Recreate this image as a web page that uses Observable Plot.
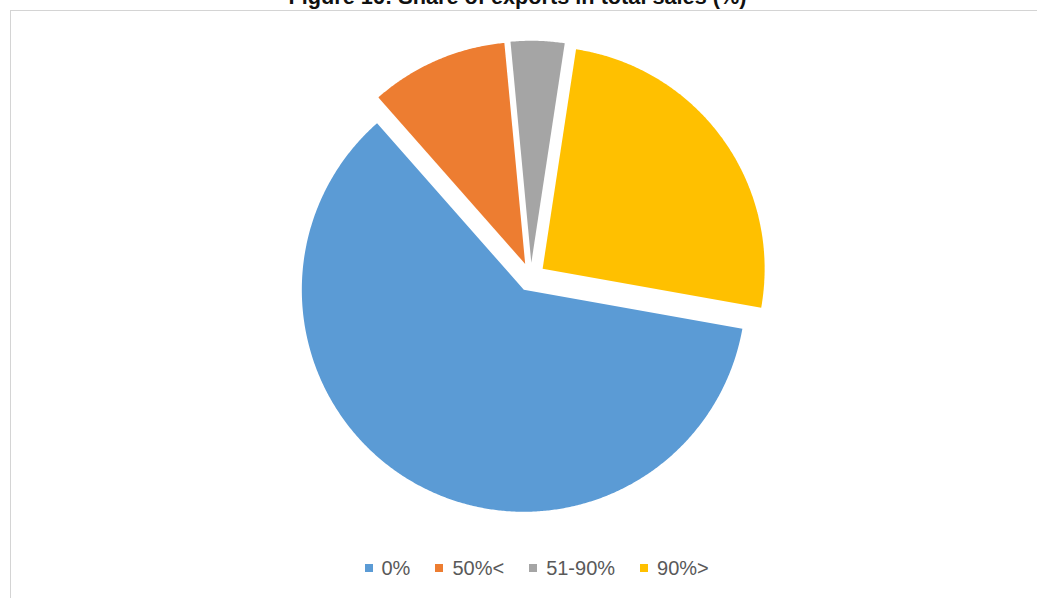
<!DOCTYPE html>
<html>
<head>
<meta charset="utf-8">
<script src="https://cdn.jsdelivr.net/npm/d3@7"></script>
<script src="https://cdn.jsdelivr.net/npm/@observablehq/plot@0.6"></script>
<style>
  html, body { margin: 0; padding: 0; background: #fff; overflow: hidden; width: 1037px; height: 598px; }
  #wrap { position: relative; width: 1037px; height: 598px; overflow: hidden; }
  #frame { position: absolute; left: 10px; top: 10px; width: 2000px; height: 2000px; border: 1px solid #d4d4d4; box-sizing: border-box; }
  #title { position: absolute; left: 0; width: 1035px; top: -14.4px; text-align: center; font: bold 21.7px/21.7px "Liberation Sans", Arial, sans-serif; color: #111; white-space: nowrap; }
  #chart { position: absolute; left: 0; top: 0; }
  #legend { position: absolute; left: 364.5px; top: 558.4px; display: flex; align-items: center; font: 20px/20px "Liberation Sans", Arial, sans-serif; color: #595959; white-space: nowrap; }
  .item { display: flex; align-items: center; margin-right: 25px; }
  .sw { width: 8px; height: 8px; margin-right: 9px; }
</style>
</head>
<body>
<div id="wrap">
  <div id="frame"></div>
  <div id="chart"></div>
  <div id="title">Figure 16: Share of exports in total sales (%)</div>
  <div id="legend"></div>
</div>
<script>
const categories = ["0%", "50%<", "51-90%", "90%>"];
const shares = [60.7, 10.0, 3.9, 25.4];
const colors = ["#5B9BD5", "#ED7D31", "#A5A5A5", "#FFC000"];
const firstSliceAngle = 100.1; // degrees, clockwise from 12 o'clock
const explodeFraction = 0.065; // of radius

// build slice outlines in unit-circle data space
const total = d3.sum(shares);
const points = [];
let acc = firstSliceAngle * Math.PI / 180;
categories.forEach((cat, i) => {
  const span = shares[i] / total * 2 * Math.PI;
  const a0 = acc, a1 = acc + span;
  const mid = (a0 + a1) / 2;
  const ox = explodeFraction * Math.sin(mid), oy = explodeFraction * Math.cos(mid);
  points.push({cat, x: ox, y: oy});
  const n = Math.max(2, Math.ceil(span / (0.4 * Math.PI / 180)));
  for (let k = 0; k <= n; k++) {
    const a = a0 + span * k / n;
    points.push({cat, x: ox + Math.sin(a), y: oy + Math.cos(a)});
  }
  acc = a1;
});

const cx = 530.4, cy = 276.7, r = 222;
const chart = Plot.plot({
  width: 1037,
  height: 550,
  margin: 0,
  style: {background: "transparent"},
  x: {domain: [-1, 1], range: [cx - r, cx + r], axis: null},
  y: {domain: [-1, 1], range: [cy + r, cy - r], axis: null},
  color: {domain: categories, range: colors},
  marks: [
    Plot.line(points, {x: "x", y: "y", z: "cat", fill: "cat", stroke: "none", curve: "linear-closed"})
  ]
});
document.getElementById("chart").appendChild(chart);

const legend = document.getElementById("legend");
categories.forEach((cat, i) => {
  const item = document.createElement("div");
  item.className = "item";
  if (i === categories.length - 1) item.style.marginRight = "0";
  const sw = document.createElement("div");
  sw.className = "sw";
  sw.style.background = colors[i];
  const t = document.createElement("span");
  t.textContent = cat;
  item.appendChild(sw);
  item.appendChild(t);
  legend.appendChild(item);
});
</script>
</body>
</html>
